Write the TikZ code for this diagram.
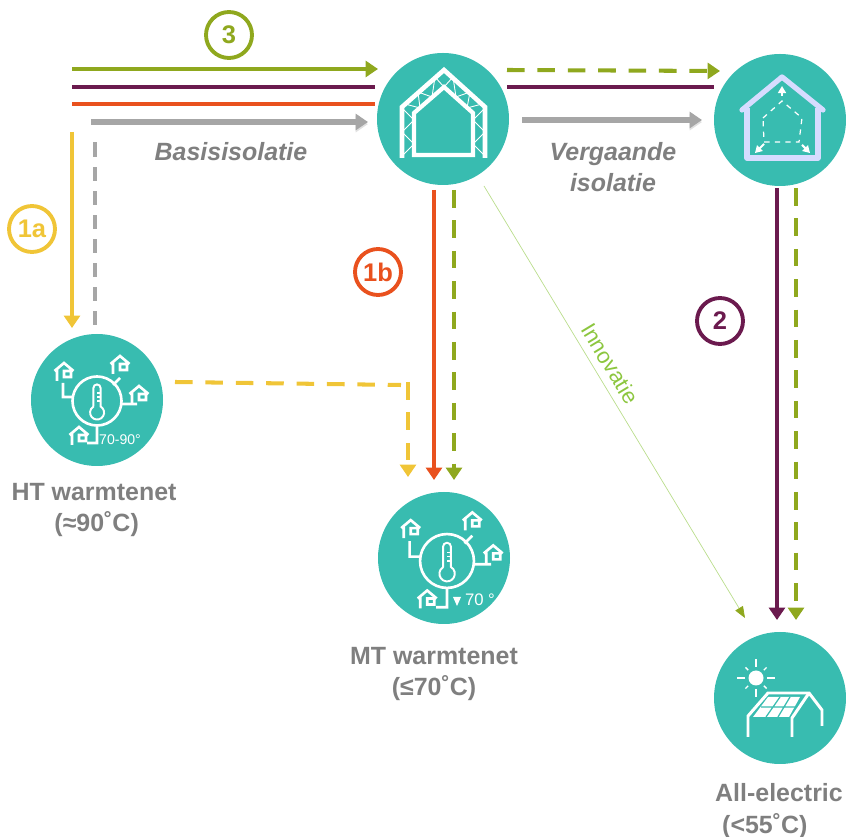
\documentclass[tikz,border=0pt]{standalone}
\usepackage{fontspec}
\setmainfont{Liberation Sans}
\usepackage{tikz}
\usetikzlibrary{positioning, arrows.meta}

\definecolor{tealc}{HTML}{38BCB0}
\definecolor{olivec}{HTML}{8FA81E}
\definecolor{purplec}{HTML}{6B1A4E}
\definecolor{orangec}{HTML}{E9511E}
\definecolor{yellowc}{HTML}{F0C537}
\definecolor{grayc}{HTML}{A6A6A6}
\definecolor{textc}{HTML}{7F7F7F}
\definecolor{lavc}{HTML}{D6DCFF}
\definecolor{innoc}{HTML}{8CC63F}

\tikzset{
  main node/.style={circle,fill=tealc,minimum size=132*0.02cm,inner sep=0pt},
  num node/.style={circle,draw,fill=white,line width=2.2pt,minimum size=46*0.02cm,inner sep=0pt,font=\fontsize{14.5}{16}\selectfont\bfseries},
  main label/.style={text=textc,align=center,font=\fontsize{14.2}{18.1}\selectfont\bfseries},
  route/.style={line width=2.3pt},
  arrowed/.style={route,-{Triangle[length=7pt,width=9pt]}},
  dashy/.style={dash pattern=on 10pt off 7.3pt},
  grayroute/.style={arrowed,grayc,line width=3pt,preaction={draw=grayc!35,transform canvas={yshift=-1.2pt}}},
  icon/.style={draw=white,line width=1.5pt,fill=none},
  small house/.pic={
    \draw[icon] (-7,9)--(-7,-2) (-9.5,-1)--(0,-9)--(9.5,-1) (7,-2)--(7,5)--(0,5)--(0,-1)--(7,-1);
  },
  network/.pic={
    \draw[icon] (0,0) circle (24.5);
    % thermometer
    \draw[icon,line width=1.1pt] (-3.6,5.5)--(-3.6,-13) arc (180:360:3.6)--(3.6,5.5) arc (-60:240:7);
    \draw[white,line width=.6pt] (0,-8)--(3,-8) (0,-4)--(3,-4) (0,0)--(3,0);
    % houses and their pipes
    \draw[icon] (-34,-18)--(-34,-4)--(-24,-4) (16,-16)--(23,-23) (24,3)--(40,3) (0,25)--(0,42)--(-10,42);
    \pic at (-33,-29) {small house};
    \pic at (23,-36) {small house};
    \pic at (42,-6) {small house};
    \pic at (-18,35) {small house};
  }
}

\begin{document}
\begin{tikzpicture}[x=0.02cm, y=-0.02cm]
\useasboundingbox (0,0) rectangle (846,837);

\node[main node] (basis) at (443,119) {};
\node[main node] (verg) at (780,120) {};
\node[main node] (ht) at (97,400) {};
\node[main node] (mt) at (444,558) {};
\node[main node] (elec) at (780,698) {};

% free ends of the routes
\coordinate (olA) at (72,69);
\coordinate (olB) at (378,69);
\coordinate (puA) at (72,87);
\coordinate (puB) at (375,87);
\coordinate (orA) at (72,104);
\coordinate (orB) at (375,104);
\coordinate (grA) at (95,325);
\coordinate (grB) at (95,137);
\coordinate (grC) at (368,122);
\coordinate (grD) at (91,122);
\coordinate (yeA) at (72,132);
\coordinate (yeB) at (72,328);
\coordinate (ydA) at (175,382);
\coordinate (ydD) at (401,385);
\coordinate (ydB) at (408,382);
\coordinate (ydC) at (408,477);
\coordinate (obA) at (434,190);
\coordinate (obB) at (434,480);
\coordinate (odA) at (454,190);
\coordinate (odB) at (454,480);
\coordinate (inA) at (484,186);
\coordinate (inB) at (745,618);
\coordinate (vpA) at (507,87);
\coordinate (vpB) at (714,87);
\coordinate (vdA) at (507,70);
\coordinate (vdB) at (720,71);
\coordinate (vgA) at (522,120);
\coordinate (vgB) at (702,120);
\coordinate (epA) at (777,188);
\coordinate (epB) at (777,620);
\coordinate (edA) at (796,188);
\coordinate (edB) at (796,620);

\draw[arrowed,olivec] (olA) -- (olB);
\draw[route,purplec] (puA) -- (puB);
\draw[route,orangec] (orA) -- (orB);
\draw[grayroute] (grD) -- (grC);
\draw[route,grayc,dash pattern=on 8pt off 5.7pt,line width=2.8pt] (grA) -- (grB);
\draw[arrowed,yellowc] (yeA) -- (yeB);
\draw[route,yellowc,dashy] (ydA) -- (ydD);
\draw[arrowed,yellowc,dashy] (ydB) -- (ydC);
\draw[arrowed,orangec] (obA) -- (obB);
\draw[arrowed,olivec,dashy] (odA) -- (odB);
\draw[innoc!60!white,line width=.4pt,-{Triangle[length=6.5pt,width=5pt,fill=olivec,color=olivec]}] (inA) -- node[pos=.43,sloped,above=1pt,text=innoc,font=\fontsize{12.6}{15}\selectfont] {Innovatie} (inB);
\draw[route,purplec] (vpA) -- (vpB);
\draw[arrowed,olivec,dashy] (vdA) -- (vdB);
\draw[grayroute] (vgA) -- (vgB);
\draw[arrowed,purplec] (epA) -- (epB);
\draw[arrowed,olivec,dashy] (edA) -- (edB);

\node[num node,draw=olivec,text=olivec] (n3) at (229,35) {3};
\node[num node,draw=yellowc,text=yellowc] (n1a) at (32,229) {1a};
\node[num node,draw=orangec,text=orangec] (n1b) at (378,272) {1b};
\node[num node,draw=purplec,text=purplec] (n2) at (720,321) {2};

\node[main label,font=\fontsize{14.2}{17}\selectfont\bfseries\itshape] (lbasis) at (231,152) {Basisisolatie};
\node[main label,font=\fontsize{14.2}{17.6}\selectfont\bfseries\itshape] (lverg) at (613,167) {Vergaande\\isolatie};
\node[main label] (lht) at (94,510) {HT warmtenet\\\hspace*{3pt}(≈90˚C)};
\node[main label] (lmt) at (434,674) {MT warmtenet\\(≤70˚C)};
\node[main label,align=left] (lelec) at (779,811) {All-electric\\\hspace*{4pt}(<55˚C)};

% icon basisisolatie
\draw[white,line width=2.6pt] (402,158)--(402,107)--(444,70)--(485,107)--(485,158);
\draw[white,line width=2.4pt] (414,155)--(414,113)--(444,87)--(473,113)--(473,155)--cycle;
\draw[white,line width=.5pt] (402,108)--(414,120)--(402,132)--(414,144)--(402,156)
  (485,108)--(473,120)--(485,132)--(473,144)--(485,156)
  (405,104)--(420,108)--(418,92)--(432,97)--(435,77)--(444,87)--(453,77)--(456,97)--(470,92)--(467,108)--(482,104);

% icon vergaande isolatie
\draw[lavc,line width=3pt,line cap=round,line join=round] (742,110)--(782,77)--(823,110);
\draw[lavc,line width=3pt,line join=round] (747,108)--(747,158)--(818,158)--(818,108);
\draw[white,line width=.7pt,dashed] (763,118)--(782,101)--(802,118)--(799,142)--(764,142)--cycle;
\draw[white,line width=1.2pt,-{Triangle[length=4pt,width=4.5pt]}] (782,96)--(782,86);
\draw[white,line width=1.2pt,-{Triangle[length=4pt,width=4.5pt]}] (764,144)--(755,153);
\draw[white,line width=1.2pt,-{Triangle[length=4pt,width=4.5pt]}] (802,145)--(810,153);

% icons warmtenet
\pic at (97,401) {network};
\pic[scale=1.1] at (447,561) {network};
\node[text=white,font=\fontsize{8}{9}\selectfont] (tht) at (120,440) {70-90\textdegree};
\node[text=white,font=\fontsize{9.5}{10}\selectfont] (tmt) at (480,600) {70 \textdegree};
\fill[white] (453,597)--(461,597)--(457,606)--cycle;

% icon all-electric
\fill[white] (756,678) circle (7.5);
\foreach \a/\r in {0/19,45/15,90/19,135/15,180/19,225/15,270/19,315/15}
  \draw[white,line width=.8pt] (756,678)++(\a:11)--++(\a:\r-11);
\draw[white,line width=1.7pt] (748,737)--(748,716)--(768,693)--(809,693)--(822,710)--(822,726);
\draw[white,line width=1.7pt] (792,737)--(792,718)--(809,693);
\fill[white] (768,697)--(800,697)--(789,717)--(753,717)--cycle;
\draw[tealc,line width=.7pt] (761,707)--(795,707) (780,697)--(766,717) (790,697)--(778,717);
\end{tikzpicture}
\end{document}
